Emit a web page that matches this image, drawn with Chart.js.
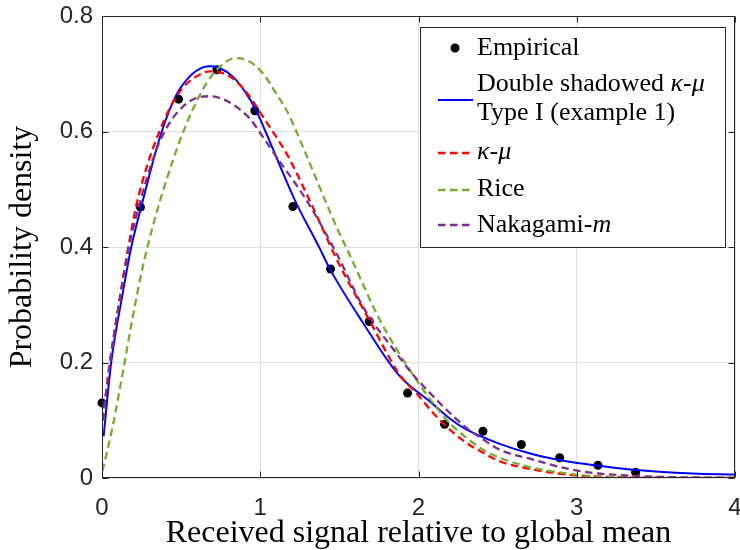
<!DOCTYPE html>
<html>
<head>
<meta charset="utf-8">
<script src="https://cdn.jsdelivr.net/npm/chart.js@4.4.0/dist/chart.umd.min.js"></script>
<style>
    html, body { margin: 0; padding: 0; background: #fff; }
</style>
</head>
<body>
<canvas id="chart" width="740" height="550"></canvas>
<script>
// tick values
const xTicks = [0, 1, 2, 3, 4];
const yTicks = [0, 0.2, 0.4, 0.6, 0.8];

// measured histogram points
const empiricalX = [0, 0.243, 0.484, 0.726, 0.966, 1.206, 1.444, 1.689, 1.931, 2.165, 2.407, 2.65, 2.892, 3.134, 3.372];
const empiricalY = [0.130, 0.469, 0.656, 0.707, 0.636, 0.470, 0.362, 0.271, 0.147, 0.093, 0.081, 0.058, 0.035, 0.022, 0.010];

// fitted curves
const dsX = [0.01, 0.058, 0.131, 0.185, 0.248, 0.374, 0.469, 0.553, 0.637, 0.69, 0.743, 0.827, 0.911, 0.975, 1.038, 1.101, 1.217, 1.375, 1.438, 1.651, 1.87, 2.091, 2.197, 2.302, 2.513, 2.723, 2.934, 3.145, 3.31, 3.52, 3.73, 4.0];
const dsY = [0.072, 0.20, 0.32, 0.40, 0.47, 0.597, 0.663, 0.695, 0.711, 0.713, 0.710, 0.695, 0.666, 0.636, 0.597, 0.556, 0.482, 0.398, 0.363, 0.268, 0.180, 0.128, 0.103, 0.084, 0.059, 0.041, 0.029, 0.021, 0.0155, 0.011, 0.008, 0.006];

const kmX = [0.005, 0.045, 0.1, 0.16, 0.215, 0.29, 0.363, 0.437, 0.511, 0.595, 0.68, 0.764, 0.848, 0.932, 1.016, 1.10, 1.164, 1.31, 1.49, 1.69, 1.88, 1.986, 2.091, 2.197, 2.302, 2.407, 2.513, 2.723, 2.934, 3.08, 3.5, 4.0];
const kmY = [0.10, 0.19, 0.29, 0.39, 0.47, 0.545, 0.600, 0.645, 0.676, 0.695, 0.704, 0.701, 0.687, 0.661, 0.626, 0.591, 0.563, 0.482, 0.375, 0.273, 0.179, 0.147, 0.113, 0.084, 0.061, 0.044, 0.029, 0.0147, 0.006, 0.003, 0.0005, 0];

const riceX = [0.003, 0.068, 0.131, 0.195, 0.258, 0.332, 0.448, 0.532, 0.616, 0.70, 0.785, 0.848, 0.932, 1.016, 1.10, 1.175, 1.29, 1.396, 1.49, 1.564, 1.757, 1.965, 2.091, 2.197, 2.302, 2.407, 2.513, 2.723, 2.934, 3.1, 3.5, 4.0];
const riceY = [0.012, 0.09, 0.182, 0.28, 0.366, 0.447, 0.550, 0.612, 0.662, 0.699, 0.721, 0.727, 0.721, 0.701, 0.666, 0.632, 0.56, 0.49, 0.43, 0.387, 0.273, 0.179, 0.130, 0.095, 0.070, 0.049, 0.035, 0.0176, 0.008, 0.003, 0.0005, 0];

const nakX = [0.005, 0.045, 0.1, 0.16, 0.215, 0.343, 0.427, 0.511, 0.595, 0.68, 0.764, 0.848, 0.932, 1.016, 1.10, 1.29, 1.48, 1.651, 1.863, 1.965, 2.091, 2.197, 2.302, 2.407, 2.513, 2.723, 2.934, 3.10, 3.31, 3.52, 4.0];
const nakY = [0.10, 0.19, 0.29, 0.385, 0.452, 0.568, 0.615, 0.643, 0.658, 0.661, 0.656, 0.643, 0.623, 0.591, 0.557, 0.482, 0.39, 0.296, 0.215, 0.179, 0.142, 0.113, 0.087, 0.067, 0.049, 0.032, 0.0165, 0.009, 0.0043, 0.002, 0.0003];

const pts = (xs, ys) => xs.map((x, i) => ({ x, y: ys[i] }));

const AXIS = "#262626";
const SERIF = "'Liberation Serif', 'Times New Roman', serif";
const SANS = "'Liberation Sans', Arial, sans-serif";
const DASH = [7.5, 4.5];

const curve = (label, xs, ys, color, dash, order) => ({
    label,
    data: pts(xs, ys),
    showLine: true,
    borderColor: color,
    borderWidth: dash.length ? 2.3 : 2,
    borderDash: dash,
    pointRadius: 0,
    cubicInterpolationMode: "monotone",
    order
});

// box round the axes with inward ticks, like matlab
const axesBox = {
    id: "axesBox",
    afterDatasetsDraw(chart) {
        const { ctx, chartArea: a, scales } = chart;
        const l = Math.round(a.left) + 0.5, r = Math.round(a.right) - 0.5;
        const t = Math.round(a.top) + 0.5, b = Math.round(a.bottom) - 0.5;
        ctx.save();
        ctx.strokeStyle = AXIS;
        ctx.lineWidth = 1;
        ctx.strokeRect(l, t, r - l, b - t);
        ctx.beginPath();
        xTicks.forEach(v => {
            const px = Math.round(scales.x.getPixelForValue(v)) + 0.5;
            ctx.moveTo(px, b); ctx.lineTo(px, b - 6);
            ctx.moveTo(px, t); ctx.lineTo(px, t + 6);
        });
        yTicks.forEach(v => {
            const py = Math.round(scales.y.getPixelForValue(v)) + 0.5;
            ctx.moveTo(l, py); ctx.lineTo(l + 6, py);
            ctx.moveTo(r, py); ctx.lineTo(r - 6, py);
        });
        ctx.stroke();
        ctx.restore();
    }
};

const drawRich = (ctx, parts, x, y, size) => {
    parts.forEach(p => {
        ctx.font = `${p.i ? "italic " : ""}${size}px ${SERIF}`;
        ctx.fillText(p.t, x, y);
        x += ctx.measureText(p.t).width;
    });
};

const legendBox = {
    id: "legendBox",
    afterDraw(chart) {
        const { ctx } = chart;
        const ds = chart.data.datasets;
        const box = { x: 420.5, y: 27.5, w: 305, h: 220 };
        const tx = 477, sx0 = 438, sx1 = 473, size = 26;
        ctx.save();
        ctx.fillStyle = "#fff";
        ctx.fillRect(box.x, box.y, box.w, box.h);
        ctx.strokeStyle = AXIS;
        ctx.lineWidth = 1;
        ctx.strokeRect(box.x, box.y, box.w, box.h);

        const entries = [
            { ds: ds[0], sy: 48, lines: [[{ t: "Empirical" }]], base: [55] },
            { ds: ds[1], sy: 100, lines: [[{ t: "Double shadowed " }, { t: "κ", i: 1 }, { t: "-" }, { t: "μ", i: 1 }], [{ t: "Type I (example 1)" }]], base: [91, 120] },
            { ds: ds[2], sy: 153, lines: [[{ t: "κ", i: 1 }, { t: "-" }, { t: "μ", i: 1 }]], base: [159] },
            { ds: ds[3], sy: 190, lines: [[{ t: "Rice" }]], base: [196] },
            { ds: ds[4], sy: 225, lines: [[{ t: "Nakagami-" }, { t: "m", i: 1 }]], base: [232] }
        ];
        entries.forEach(e => {
            if (e.ds.showLine) {
                ctx.beginPath();
                ctx.strokeStyle = e.ds.borderColor;
                ctx.lineWidth = e.ds.borderWidth;
                ctx.setLineDash(e.ds.borderDash || []);
                ctx.moveTo(sx0, e.sy);
                ctx.lineTo(sx1, e.sy);
                ctx.stroke();
                ctx.setLineDash([]);
            } else {
                ctx.beginPath();
                ctx.fillStyle = e.ds.backgroundColor;
                ctx.arc(455, e.sy, 4.5, 0, Math.PI * 2);
                ctx.fill();
            }
            ctx.fillStyle = "#000";
            ctx.textBaseline = "alphabetic";
            ctx.textAlign = "left";
            e.lines.forEach((parts, k) => drawRich(ctx, parts, tx, e.base[k], size));
        });
        ctx.restore();
    }
};

new Chart(document.getElementById("chart"), {
    type: "scatter",
    data: {
        datasets: [
            {
                label: "Empirical",
                data: pts(empiricalX, empiricalY),
                showLine: false,
                pointRadius: 4.5,
                pointHoverRadius: 4.5,
                backgroundColor: "#000",
                borderColor: "#000",
                borderWidth: 0,
                clip: false,
                order: 5
            },
            curve("Double shadowed κ-μ Type I (example 1)", dsX, dsY, "#0000ff", [], 4),
            curve("κ-μ", kmX, kmY, "#ff0000", DASH, 3),
            curve("Rice", riceX, riceY, "#77ac30", DASH, 2),
            curve("Nakagami-m", nakX, nakY, "#7e2f8e", DASH, 1)
        ]
    },
    options: {
        responsive: false,
        animation: false,
        layout: { padding: { left: 0, right: 5, top: 16, bottom: 0 } },
        plugins: {
            legend: { display: false },
            tooltip: { enabled: false }
        },
        scales: {
            x: {
                type: "linear",
                min: 0,
                max: 4,
                afterBuildTicks: s => { s.ticks = xTicks.map(v => ({ value: v })); },
                afterFit: s => { s.height = 72; s.paddingLeft = 0; s.paddingRight = 0; },
                grid: { color: "#e0e0e0", drawTicks: false },
                border: { display: false },
                ticks: { padding: 16, color: AXIS, font: { family: SANS, size: 24 } },
                title: {
                    display: true,
                    text: "Received signal relative to global mean",
                    color: "#000",
                    font: { family: SERIF, size: 32, lineHeight: 1 },
                    padding: { top: 0, bottom: 0 }
                }
            },
            y: {
                type: "linear",
                min: 0,
                max: 0.8,
                afterBuildTicks: s => { s.ticks = yTicks.map(v => ({ value: v })); },
                afterFit: s => { s.width = 102; s.paddingTop = 0; s.paddingBottom = 0; },
                grid: { color: "#e0e0e0", drawTicks: false },
                border: { display: false },
                ticks: { padding: 9, color: AXIS, font: { family: SANS, size: 24 } },
                title: {
                    display: true,
                    text: "Probability density",
                    color: "#000",
                    font: { family: SERIF, size: 32, lineHeight: 1 },
                    padding: { top: 7, bottom: 0 }
                }
            }
        }
    },
    plugins: [axesBox, legendBox]
});
</script>
</body>
</html>
